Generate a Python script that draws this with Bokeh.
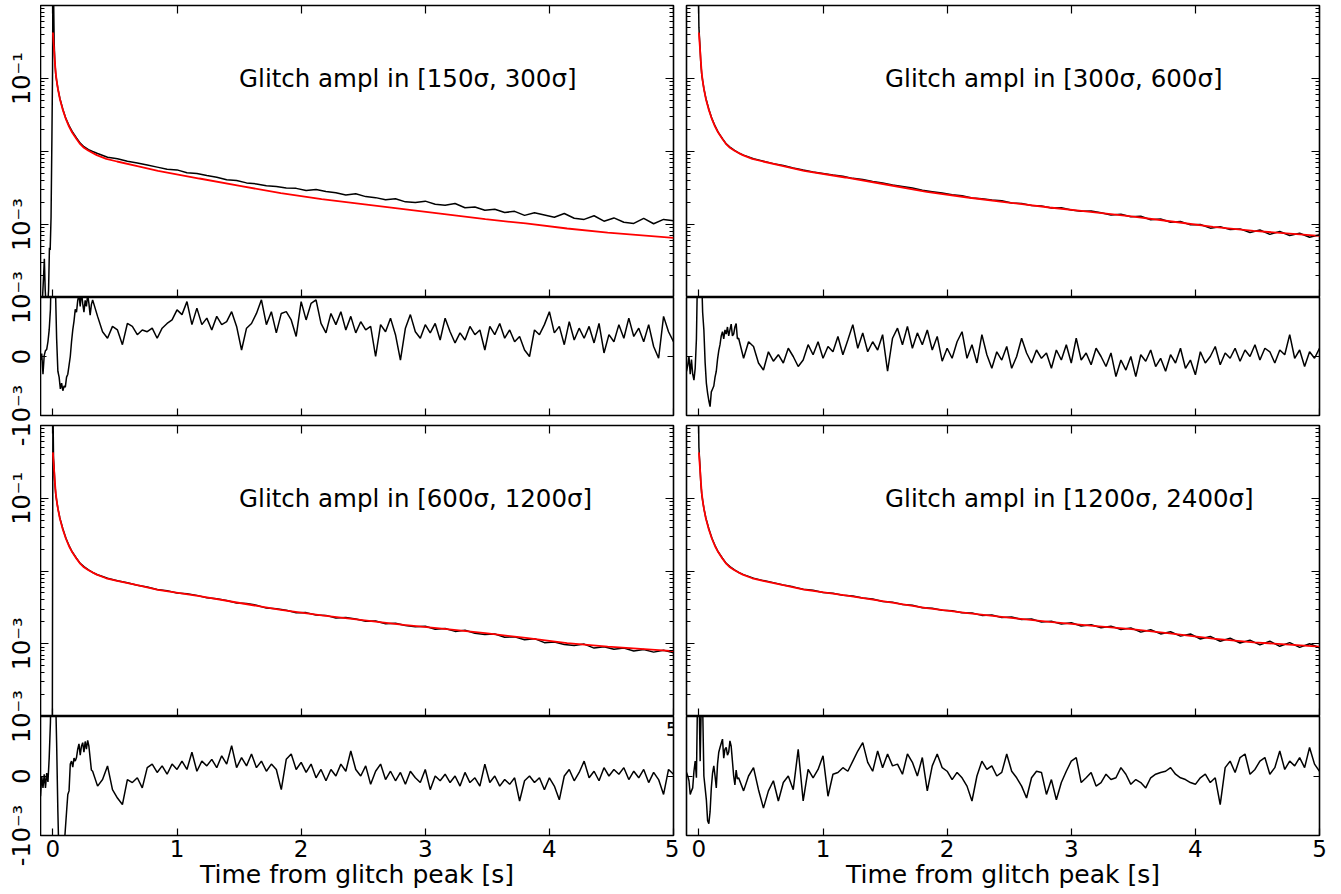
import numpy as np
from bokeh.plotting import figure
from bokeh.layouts import gridplot, row
from bokeh.models import (Range1d, LinearAxis, LogAxis, FixedTicker,
                          CustomJSTickFormatter, Label)
from bokeh.embed import file_html
from bokeh.resources import INLINE

FONT = "DejaVu Sans"

# ---------------- texts / ticks ----------------
titles = ["Glitch ampl in [150σ, 300σ]", "Glitch ampl in [300σ, 600σ]",
          "Glitch ampl in [600σ, 1200σ]", "Glitch ampl in [1200σ, 2400σ]"]
x_label = "Time from glitch peak [s]"
x_ticks = [0, 1, 2, 3, 4, 5]
x_tick_labels = ["0", "1", "2", "3", "4", "5"]
main_ytick_vals = [0.1, 0.001]
main_ytick_labels = ["10⁻¹", "10⁻³"]
res_ytick_vals = [-1.0, 0.0, 1.0]          # residual units: 1e-3
res_ytick_labels = ["-10⁻³", "0", "10⁻³"]
stray_label = "5"                          # stray tick label seen at the right edge in the reference

# ---------------- sample times ----------------
res_t_head = np.round(np.arange(-0.10, 0.315, 0.01), 2)     # 42 samples
res_t_tail = np.round(np.arange(0.32, 5.0001, 0.04), 2)     # 118 samples
main_t_tail = np.round(np.arange(0.36, 5.0001, 0.08), 2)    # 59 samples

# ---------------- model (red), log10 values ----------------
red_t = [0.0, 0.005, 0.01, 0.016, 0.023, 0.03, 0.04, 0.056, 0.08, 0.105, 0.13, 0.155,
         0.19, 0.22, 0.25, 0.287, 0.353, 0.43, 0.517, 0.68, 0.847, 1.18, 1.506, 1.836,
         2.165, 2.495, 2.825, 3.154, 3.484, 3.81, 4.143, 4.47, 5.0]
red_head_log = [-0.37, -0.5, -0.62, -0.78, -0.93, -1.03, -1.14, -1.28, -1.43, -1.557,
                -1.66, -1.74, -1.83, -1.90, -1.95, -1.99]
red_log_1 = red_head_log + [-2.05, -2.10, -2.137, -2.20, -2.265, -2.37, -2.47, -2.571, -2.653,
                            -2.72, -2.79, -2.858, -2.927, -2.986, -3.055, -3.11, -3.183]
red_log_2 = red_head_log + [-2.05, -2.10, -2.137, -2.20, -2.265, -2.356, -2.452, -2.553, -2.630,
                            -2.699, -2.767, -2.826, -2.890, -2.959, -3.032, -3.087, -3.155]
red_log_3 = red_head_log + [-2.05, -2.10, -2.135, -2.195, -2.26, -2.345, -2.44, -2.535, -2.61,
                            -2.675, -2.74, -2.795, -2.855, -2.92, -2.99, -3.04, -3.10]
red_log_4 = red_head_log + [-2.05, -2.10, -2.135, -2.195, -2.255, -2.335, -2.42, -2.51, -2.58,
                            -2.64, -2.70, -2.75, -2.80, -2.86, -2.93, -2.98, -3.04]

# ---------------- measured glitch profile (black), log10 values ----------------
blk1_t_head = [-0.1, -0.085, -0.075, -0.069, -0.062, -0.055, -0.045, -0.035, -0.028, -0.022,
               -0.015, -0.008, -0.003, 0.0, 0.005, 0.01, 0.015, 0.023, 0.04, 0.056,
               0.08, 0.105, 0.13, 0.155, 0.19, 0.22, 0.25, 0.287, 0.32]
blk1_log_head = [-4.2, -4.05, -3.7, -3.47, -3.9, -4.1, -4.2, -3.9, -3.32, -3.35,
                 -2.9, -1.8, -0.9, 0.3, 0.2, -0.5, -0.75, -0.95, -1.14, -1.27,
                 -1.42, -1.55, -1.645, -1.725, -1.815, -1.885, -1.935, -1.975, -2.0]
blk1_log_tail = [-2.028, -2.078, -2.100, -2.134, -2.158, -2.186, -2.214, -2.243, -2.252, -2.290,
                 -2.302, -2.330, -2.352, -2.388, -2.396, -2.430, -2.444, -2.470, -2.478, -2.500,
                 -2.505, -2.535, -2.522, -2.548, -2.565, -2.595, -2.580, -2.618, -2.632, -2.662,
                 -2.648, -2.690, -2.700, -2.680, -2.722, -2.735, -2.712, -2.770, -2.760, -2.805,
                 -2.790, -2.835, -2.820, -2.875, -2.840, -2.870, -2.900, -2.850, -2.915, -2.930,
                 -2.880, -2.955, -2.910, -2.970, -2.985, -2.915, -2.990, -2.930, -2.950]

blk2_t_head = [-0.005, 0.0, 0.005, 0.01, 0.015, 0.023, 0.04, 0.056, 0.08, 0.105, 0.13, 0.155,
               0.19, 0.22, 0.25, 0.287, 0.32]
blk2_log_head = [0.3, -0.3, -0.45, -0.6, -0.78, -0.95, -1.14, -1.27, -1.42, -1.55, -1.65, -1.735,
                 -1.825, -1.895, -1.94, -1.985, -2.02]
blk2_log_tail = [-2.050, -2.100, -2.132, -2.166, -2.193, -2.226, -2.254, -2.280, -2.300, -2.322,
                 -2.340, -2.368, -2.385, -2.410, -2.430, -2.460, -2.478, -2.500, -2.530, -2.550,
                 -2.570, -2.594, -2.605, -2.636, -2.648, -2.665, -2.675, -2.705, -2.712, -2.740,
                 -2.745, -2.775, -2.772, -2.800, -2.820, -2.815, -2.840, -2.870, -2.860, -2.895,
                 -2.888, -2.935, -2.925, -2.970, -2.960, -3.005, -3.000, -3.050, -3.030, -3.070,
                 -3.060, -3.110, -3.075, -3.135, -3.095, -3.150, -3.120, -3.175, -3.140]

blk3_t_head = [-0.1, -0.005, 0.0, 0.005, 0.01, 0.015, 0.023, 0.04, 0.056, 0.08, 0.105, 0.13,
               0.155, 0.19, 0.22, 0.25, 0.287, 0.32]
blk3_log_head = [-4.5, -4.5, 0.3, -0.45, -0.6, -0.78, -0.95, -1.14, -1.27, -1.42, -1.55, -1.65,
                 -1.735, -1.825, -1.895, -1.94, -1.985, -2.02]
blk3_log_tail = [-2.052, -2.100, -2.133, -2.162, -2.196, -2.220, -2.254, -2.270, -2.302, -2.312,
                 -2.335, -2.368, -2.380, -2.405, -2.440, -2.447, -2.470, -2.510, -2.518, -2.540,
                 -2.575, -2.572, -2.605, -2.610, -2.645, -2.640, -2.660, -2.692, -2.688, -2.725,
                 -2.718, -2.750, -2.765, -2.760, -2.800, -2.790, -2.830, -2.815, -2.855, -2.872,
                 -2.865, -2.910, -2.905, -2.945, -2.930, -2.985, -2.975, -3.010, -3.025, -3.005,
                 -3.060, -3.040, -3.075, -3.060, -3.100, -3.080, -3.115, -3.090, -3.125]

blk4_t_head = [-0.005, 0.0, 0.005, 0.01, 0.015, 0.023, 0.04, 0.056, 0.08, 0.105, 0.13, 0.155,
               0.19, 0.22, 0.25, 0.287, 0.32]
blk4_log_head = [0.3, -0.3, -0.45, -0.6, -0.78, -0.95, -1.14, -1.27, -1.42, -1.55, -1.65, -1.735,
                 -1.825, -1.895, -1.94, -1.985, -2.02]
blk4_log_tail = [-2.050, -2.098, -2.132, -2.160, -2.192, -2.218, -2.250, -2.266, -2.295, -2.305,
                 -2.333, -2.345, -2.372, -2.385, -2.418, -2.428, -2.460, -2.470, -2.505, -2.512,
                 -2.540, -2.545, -2.575, -2.578, -2.610, -2.605, -2.640, -2.632, -2.668, -2.660,
                 -2.700, -2.692, -2.730, -2.712, -2.755, -2.738, -2.780, -2.758, -2.805, -2.782,
                 -2.840, -2.808, -2.865, -2.835, -2.895, -2.865, -2.935, -2.900, -2.965, -2.925,
                 -2.990, -2.950, -3.015, -2.965, -3.035, -2.985, -3.050, -3.000, -3.055]

# ---------------- residuals (units of 1e-3) ----------------
res1_head = [-0.06, 0.05, -0.30, 0.02, 0.10, 0.12, 0.25, 0.45, 0.80, 1.80,
             2.50, 1.60, 1.20, 0.30, -0.25, -0.35, -0.55, -0.45, -0.58, -0.50,
             -0.52, -0.35, -0.30, -0.15, 0.00, 0.25, 0.45, 0.60, 0.80, 0.75,
             0.95, 1.05, 0.85, 1.10, 0.90, 0.75, 0.95, 0.85, 1.05, 0.90, 0.70, 0.88]
res1_tail = [0.96, 0.68, 0.42, 0.31, 0.51, 0.45, 0.20, 0.56, 0.51, 0.37,
             0.45, 0.42, 0.48, 0.31, 0.48, 0.56, 0.62, 0.79, 0.71, 0.93,
             0.54, 0.82, 0.54, 0.65, 0.45, 0.68, 0.54, 0.59, 0.76, 0.51,
             0.11, 0.48, 0.56, 0.73, 0.96, 0.54, 0.76, 0.40, 0.73, 0.76,
             0.62, 0.34, 0.93, 0.62, 0.90, 0.96, 0.56, 0.40, 0.73, 0.54,
             0.76, 0.45, 0.68, 0.40, 0.59, 0.45, 0.51, 0.00, 0.54, 0.42,
             0.65, 0.37, -0.06, 0.48, 0.71, 0.42, 0.31, 0.54, 0.40, 0.56,
             0.28, 0.65, 0.42, 0.23, 0.40, 0.28, 0.51, 0.37, 0.45, 0.11,
             0.51, 0.37, 0.56, 0.31, 0.45, 0.25, 0.34, 0.11, 0.00, 0.45,
             0.37, 0.54, 0.76, 0.40, 0.51, 0.20, 0.59, 0.28, 0.48, 0.31,
             0.51, 0.23, 0.56, 0.06, 0.37, 0.25, 0.54, 0.31, 0.65, 0.34,
             0.48, 0.25, 0.54, 0.17, -0.03, 0.68, 0.42, 0.25]
res2_head = [-0.25, -0.15, 0.00, -0.30, -0.05, -0.30, -0.40, -0.20, 0.30, 1.60,
             2.00, 1.80, 1.50, 0.75, 0.45, -0.10, -0.45, -0.62, -0.75, -0.85,
             -0.60, -0.55, -0.50, -0.35, -0.25, -0.05, 0.10, 0.20, 0.35, 0.42,
             0.30, 0.45, 0.38, 0.50, 0.35, 0.45, 0.55, 0.35, 0.38, 0.50, 0.56, 0.30]
res2_tail = [0.31, -0.03, 0.25, 0.17, -0.11, -0.23, 0.08, -0.08, 0.03, -0.11,
             0.14, 0.00, -0.17, -0.06, 0.20, 0.03, 0.25, -0.03, 0.17, 0.08,
             0.34, 0.03, 0.28, 0.54, 0.14, 0.40, 0.08, 0.25, 0.11, 0.37,
             -0.25, 0.31, 0.48, 0.20, 0.51, 0.14, 0.40, 0.20, 0.45, 0.11,
             0.34, -0.08, 0.14, -0.03, 0.25, 0.42, -0.03, 0.20, -0.11, 0.37,
             0.03, -0.20, 0.08, -0.06, 0.17, -0.20, 0.00, 0.31, 0.06, -0.11,
             0.11, -0.03, 0.06, -0.20, 0.11, -0.06, 0.20, -0.11, 0.31, -0.06,
             0.06, -0.14, 0.14, 0.00, -0.17, 0.06, -0.34, -0.06, -0.23, 0.00,
             -0.34, 0.03, -0.08, 0.11, -0.17, -0.03, -0.25, 0.03, -0.11, 0.14,
             -0.20, -0.06, -0.31, 0.08, -0.11, 0.00, 0.17, -0.14, 0.06, -0.03,
             0.14, -0.08, 0.11, 0.00, 0.20, -0.06, 0.14, 0.08, -0.11, 0.11,
             0.03, 0.37, -0.03, 0.11, -0.17, 0.08, -0.03, 0.14]
res3_head = [-0.34, 0.00, -0.20, 0.03, -0.20, 0.05, -0.10, 0.30, 0.90, 2.00,
             1.20, 2.00, 1.50, 0.55, -0.60, -1.50, -1.60, -1.40, -1.50, -1.20,
             -0.90, -0.60, -0.31, -0.25, 0.20, 0.25, 0.15, 0.30, 0.25, 0.31,
             0.45, 0.54, 0.35, 0.50, 0.56, 0.40, 0.58, 0.45, 0.60, 0.50, 0.30, 0.10]
res3_tail = [0.08, -0.17, -0.06, 0.17, -0.23, -0.37, -0.48, -0.06, -0.11, -0.03,
             -0.20, 0.14, 0.20, 0.06, 0.17, 0.03, 0.20, 0.11, 0.25, 0.11,
             0.40, 0.08, 0.25, 0.17, 0.28, 0.14, 0.34, 0.20, 0.51, 0.14,
             0.31, 0.17, 0.37, 0.14, 0.25, 0.08, 0.20, 0.11, -0.23, 0.28,
             0.37, 0.11, 0.23, 0.06, 0.20, -0.03, 0.11, -0.08, 0.11, 0.00,
             0.20, 0.08, 0.42, 0.11, 0.00, 0.17, -0.14, 0.08, 0.20, -0.06,
             0.08, -0.08, 0.06, -0.14, 0.08, -0.03, -0.11, 0.11, -0.23, 0.00,
             -0.08, 0.03, -0.11, 0.00, -0.17, 0.06, -0.11, -0.03, -0.17, 0.20,
             -0.11, 0.00, -0.17, -0.06, -0.14, -0.03, -0.42, -0.08, 0.00, -0.11,
             -0.03, -0.23, -0.03, -0.17, -0.40, 0.00, 0.11, -0.08, 0.06, 0.25,
             -0.03, 0.08, -0.08, 0.14, 0.00, 0.11, 0.03, 0.14, -0.06, 0.08,
             -0.03, 0.11, -0.11, 0.06, -0.06, -0.31, 0.11, 0.03]
res4_head = [0.06, 0.00, -0.08, -0.31, -0.25, -0.20, 0.08, 0.25, -0.03, 1.50,
             1.50, 0.25, 1.30, 1.20, 0.00, -0.20, -0.40, -0.75, -0.80, -0.60,
             -0.20, 0.05, 0.17, 0.00, -0.20, 0.20, 0.40, 0.48, 0.55, 0.62,
             0.30, 0.45, 0.48, 0.35, 0.40, 0.59, 0.50, 0.25, 0.00, -0.15, 0.10, -0.05]
res4_tail = [-0.03, -0.25, 0.00, 0.14, -0.23, -0.54, -0.25, -0.08, -0.42, -0.11,
             0.00, -0.23, 0.45, -0.42, 0.11, -0.03, 0.11, 0.34, -0.34, 0.03,
             0.06, 0.14, 0.08, 0.25, 0.42, 0.56, 0.23, 0.08, 0.42, 0.14,
             0.37, 0.17, 0.20, 0.03, 0.37, 0.23, 0.00, 0.31, -0.25, 0.17,
             0.37, 0.14, 0.08, -0.06, 0.06, -0.03, -0.17, -0.42, 0.00, 0.25,
             0.11, 0.17, 0.00, 0.06, 0.37, 0.08, -0.03, -0.17, -0.37, -0.03,
             0.08, 0.06, -0.31, -0.06, -0.40, -0.11, 0.08, 0.25, 0.31, -0.11,
             -0.03, 0.06, -0.17, -0.11, 0.03, -0.06, -0.03, 0.14, 0.03, -0.14,
             -0.06, -0.11, -0.20, -0.03, 0.03, 0.06, 0.08, 0.14, 0.03, -0.03,
             -0.06, -0.11, -0.14, -0.03, 0.03, -0.11, -0.03, -0.48, 0.14, 0.25,
             0.06, 0.31, 0.37, 0.03, 0.11, 0.25, 0.31, 0.03, 0.14, 0.42,
             0.11, 0.25, 0.17, 0.31, 0.14, 0.48, 0.20, 0.08]

# ---------------- layout constants (pixels) ----------------
X0, X1 = -0.1, 5.0
Y0, Y1 = 1e-4, 1.0
R0, R1 = -1.0, 1.0
FRAME_W = 633
BORDERS = [(0, 6), (7, 14)]          # (left, right) border per column
LABEL_COL_W = 40
TOTAL_H = 894
BOTTOM_B = 59
LW_FRAME = 1.6
LOG_MAJOR = [1e-4, 1e-3, 1e-2, 1e-1, 1.0]
LOG_MINOR = [k * 10.0 ** e for e in range(-4, 0) for k in range(2, 10)]
# vertical pixel bands of the panels: (top, bottom)
BAND_M1, BAND_R1, BAND_M2, BAND_R2 = (5, 297), (297, 415), (425, 716), (716, 835)


def blank():
    return CustomJSTickFormatter(code="return '';")


def labeller(vals, labs):
    return CustomJSTickFormatter(args=dict(vals=list(vals), labs=list(labs)), code="""
for (let i = 0; i < vals.length; i++) {
  if (Math.abs(tick - vals[i]) <= 1e-6 * Math.max(1e-12, Math.abs(vals[i])) || tick == vals[i]) return labs[i];
}
return '';
""")


def style_axis(ax, major_in, minor_in=0):
    ax.axis_line_color = None
    ax.major_tick_in = major_in
    ax.major_tick_out = 0
    ax.minor_tick_in = minor_in
    ax.minor_tick_out = 0
    ax.major_tick_line_color = "black"
    ax.minor_tick_line_color = "black"
    ax.major_tick_line_width = 1.2
    ax.minor_tick_line_width = 1
    ax.major_label_text_font = FONT
    ax.major_label_text_color = "black"
    ax.axis_label_text_color = "black"


def base_fig(col, frame_h, y_range, log, top, bottom):
    lb, rb = BORDERS[col]
    p = figure(width=lb + FRAME_W + rb, height=frame_h + top + bottom,
               x_range=Range1d(X0, X1), y_range=y_range,
               y_axis_type="log" if log else "linear",
               x_axis_location=None, y_axis_location=None,
               min_border_left=lb, min_border_right=rb,
               min_border_top=top, min_border_bottom=bottom,
               output_backend="svg", toolbar_location=None)
    p.outline_line_color = "black"
    p.outline_line_width = LW_FRAME
    p.grid.visible = False
    p.background_fill_color = "white"
    p.border_fill_color = "white"
    return p


def make_main(col, band, top, bt, blog, rlog, title):
    p = base_fig(col, band[1] - band[0], Range1d(Y0, Y1), True, top, 0)
    for side, loc in (("left", X0), ("right", X1)):
        ax = LogAxis(ticker=FixedTicker(ticks=LOG_MAJOR, minor_ticks=LOG_MINOR),
                     formatter=blank(), fixed_location=loc)
        style_axis(ax, 8, 4)
        p.add_layout(ax, side)
    for side, loc in (("below", Y0), ("above", Y1)):
        ax = LinearAxis(ticker=FixedTicker(ticks=x_ticks, minor_ticks=[]),
                        formatter=blank(), fixed_location=loc)
        style_axis(ax, 8)
        p.add_layout(ax, side)
    p.line(bt, 10.0 ** np.array(blog), line_color="black", line_width=1.5)
    p.line(red_t, 10.0 ** np.array(rlog), line_color="red", line_width=1.8)
    p.add_layout(Label(x=1.5, y=0.1, text=title, text_font=FONT, text_font_size="24.5px",
                       text_baseline="alphabetic", text_align="left", text_color="black"))
    return p


def make_res(col, band, bottom, tv, vv, labels):
    p = base_fig(col, band[1] - band[0], Range1d(R0, R1), False, 0, bottom)
    for side, loc in (("left", X0), ("right", X1)):
        ax = LinearAxis(ticker=FixedTicker(ticks=res_ytick_vals, minor_ticks=[]),
                        formatter=blank(), fixed_location=loc)
        style_axis(ax, 6)
        p.add_layout(ax, side)
    if labels:
        ax = LinearAxis(ticker=FixedTicker(ticks=x_ticks, minor_ticks=[]),
                        formatter=labeller(x_ticks, x_tick_labels))
        style_axis(ax, 7)
        ax.axis_label = x_label
        ax.axis_label_text_font = FONT
        ax.axis_label_text_font_size = "25px"
        ax.axis_label_text_font_style = "normal"
        ax.axis_label_standoff = 0
        ax.major_label_text_font_size = "23px"
        ax.major_label_standoff = 4
    else:
        ax = LinearAxis(ticker=FixedTicker(ticks=x_ticks, minor_ticks=[]),
                        formatter=blank(), fixed_location=R0)
        style_axis(ax, 7)
    p.add_layout(ax, "below")
    p.line(tv, vv, line_color="black", line_width=1.5)
    return p


res_t = list(res_t_head) + list(res_t_tail)
mt = list(main_t_tail)

m1 = make_main(0, BAND_M1, BAND_M1[0], blk1_t_head + mt, blk1_log_head + blk1_log_tail, red_log_1, titles[0])
m2 = make_main(1, BAND_M1, BAND_M1[0], blk2_t_head + mt, blk2_log_head + blk2_log_tail, red_log_2, titles[1])
r1 = make_res(0, BAND_R1, BAND_M2[0] - BAND_R1[1] - 5, res_t, res1_head + res1_tail, False)
r2 = make_res(1, BAND_R1, BAND_M2[0] - BAND_R1[1] - 5, res_t, res2_head + res2_tail, False)
m3 = make_main(0, BAND_M2, 5, blk3_t_head + mt, blk3_log_head + blk3_log_tail, red_log_3, titles[2])
m4 = make_main(1, BAND_M2, 5, blk4_t_head + mt, blk4_log_head + blk4_log_tail, red_log_4, titles[3])
r3 = make_res(0, BAND_R2, BOTTOM_B, res_t, res3_head + res3_tail, True)
r4 = make_res(1, BAND_R2, BOTTOM_B, res_t, res4_head + res4_tail, True)

# stray tick label near the right edge of the lower-left residual panel (kept fully visible)
r3.add_layout(Label(x=X1, y=R1, x_offset=5, y_offset=-5, text=stray_label, text_font=FONT,
                    text_font_size="20px", text_align="right", text_baseline="top",
                    text_color="black"))

# ---------------- y tick label column (labels straddle the panel joins) ----------------
def log_pos(v, band):
    return band[0] + (np.log10(Y1) - np.log10(v)) / (np.log10(Y1) - np.log10(Y0)) * (band[1] - band[0])


def lin_pos(v, band):
    return band[0] + (R1 - v) / (R1 - R0) * (band[1] - band[0])


lab_pos, lab_txt = [], []
for band in (BAND_M1, BAND_M2):
    for v, s in zip(main_ytick_vals, main_ytick_labels):
        lab_pos.append(float(log_pos(v, band)))
        lab_txt.append(s)
for band in (BAND_R1, BAND_R2):
    for v, s in zip(res_ytick_vals, res_ytick_labels):
        lab_pos.append(float(lin_pos(v, band)))
        lab_txt.append(s)

lab = figure(width=LABEL_COL_W, height=TOTAL_H, x_range=Range1d(0, 1),
             y_range=Range1d(TOTAL_H, 0),
             x_axis_location=None, y_axis_location=None,
             min_border_left=36, min_border_right=0, min_border_top=0, min_border_bottom=0,
             output_backend="svg", toolbar_location=None)
lab.outline_line_color = None
lab.grid.visible = False
lab.background_fill_color = "white"
lab.border_fill_color = "white"
ax = LinearAxis(ticker=FixedTicker(ticks=lab_pos, minor_ticks=[]),
                formatter=labeller(lab_pos, lab_txt))
style_axis(ax, 0)
ax.major_tick_line_color = None
ax.major_label_orientation = "vertical"
ax.major_label_text_font_size = "24px"
ax.major_label_standoff = 1
lab.add_layout(ax, "left")

grid = gridplot([[m1, m2], [r1, r2], [m3, m4], [r3, r4]], toolbar_location=None)
layout = row(lab, grid)

open("out.html", "w").write(file_html(layout, INLINE))
